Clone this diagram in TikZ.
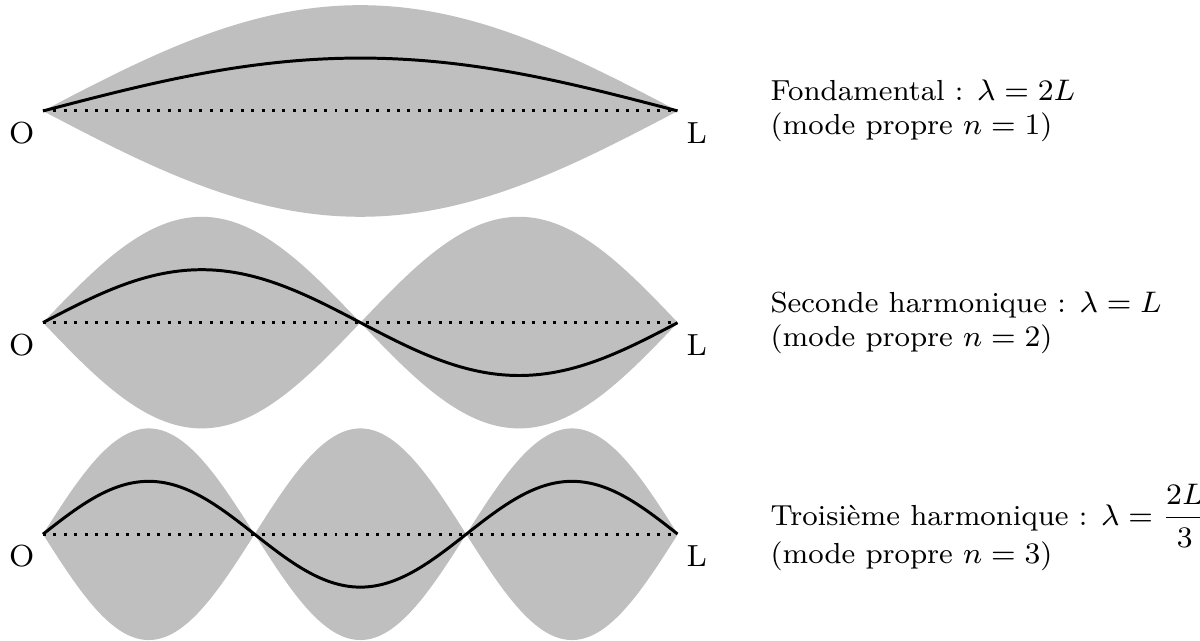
\documentclass[tikz,border=0pt]{standalone}
\usepackage{amsmath}
\begin{document}
\begin{tikzpicture}[
  every node/.style={font=\fontsize{7.8}{9.2}\selectfont},
  labelfont/.style={font=\fontsize{8.2}{9.6}\selectfont},
  envelope/.style={fill=gray!50, draw=none},
  wave/.style={thick, black},
  axisline/.style={dotted, thick},
  endlabel/.style={inner sep=0pt, labelfont},
  modetext/.style={anchor=west, align=left, inner sep=0pt}
]
\useasboundingbox (-0.406,1.049) rectangle (10.935,-5.008);
\foreach \n/\y in {1/0,2/-2,3/-4}{
  \begin{scope}[yshift=\y cm]
    \fill[envelope] plot[domain=0:6,samples=241,smooth] (\x,{abs(sin(\n*30*\x))})
      -- plot[domain=6:0,samples=241,smooth] (\x,{-abs(sin(\n*30*\x))}) -- cycle;
    \coordinate (O\n) at (0,0);
    \coordinate (L\n) at (6,0);
    \draw[axisline] (O\n) -- (L\n);
    \draw[wave] plot[domain=0:6,samples=200,smooth] (\x,{0.5*sin(\n*30*\x)});
    \node[endlabel] (o\n) at (-0.2,-0.21) {O};
    \node[endlabel] (l\n) at (6.18,-0.21) {L};
  \end{scope}
}
\node[modetext] (t1) at (6.87,0) {Fondamental : $\lambda = 2L$\\(mode propre $n=1$)};
\node[modetext] (t2) at (6.87,-2) {Seconde harmonique : $\lambda = L$\\(mode propre $n=2$)};
\node[modetext] (t3) at (6.87,-4.03) {Troisième harmonique : $\lambda = \smash{\dfrac{2L}{3}}$\\[1pt](mode propre $n=3$)};
\end{tikzpicture}
\end{document}
